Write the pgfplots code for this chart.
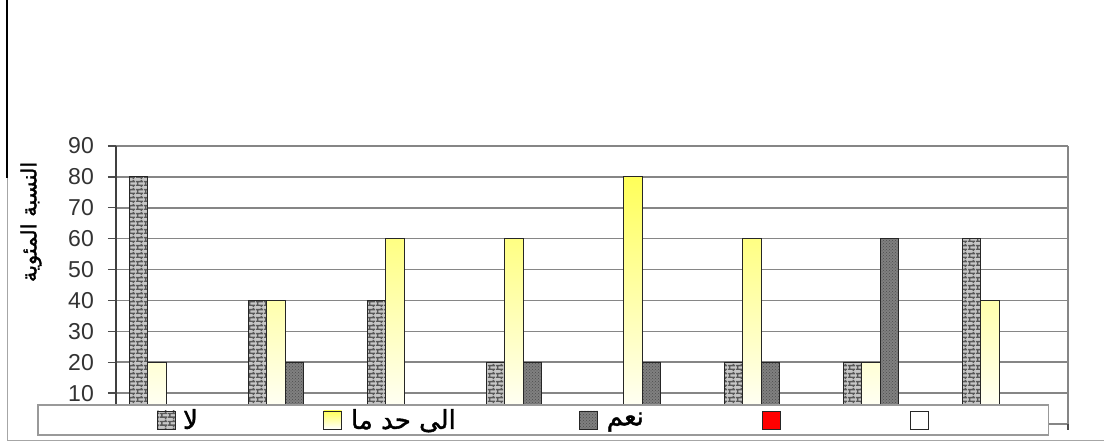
\documentclass[border=0pt]{standalone}
\usepackage{fontspec}
\setmainfont{Liberation Sans}
\newfontfamily\arabicfont[Script=Arabic, FakeBold=1.5]{DejaVu Sans}
\TeXXeTstate=1
\usepackage{pgfplots}
\pgfplotsset{compat=1.18}
\usetikzlibrary{patterns}

% brick pattern: light bricks, dark mortar
\pgfdeclarepatternformonly{mybricks}{\pgfpointorigin}{\pgfpoint{8pt}{8pt}}{\pgfpoint{8pt}{8pt}}{
  \pgfsetlinewidth{1.5pt}
  \pgfpathmoveto{\pgfpoint{0pt}{2pt}}\pgfpathlineto{\pgfpoint{8pt}{2pt}}
  \pgfpathmoveto{\pgfpoint{0pt}{6pt}}\pgfpathlineto{\pgfpoint{8pt}{6pt}}
  \pgfpathmoveto{\pgfpoint{2pt}{2pt}}\pgfpathlineto{\pgfpoint{2pt}{6pt}}
  \pgfpathmoveto{\pgfpoint{6pt}{6pt}}\pgfpathlineto{\pgfpoint{6pt}{8pt}}
  \pgfpathmoveto{\pgfpoint{6pt}{0pt}}\pgfpathlineto{\pgfpoint{6pt}{2pt}}
  \pgfusepath{stroke}
}

\pgfplotsset{
  sq legend/.style={legend image code/.code={\draw[##1] (0pt,-9pt) rectangle (18pt,9pt);}},
}

\begin{document}
\begin{tikzpicture}
\useasboundingbox (0,0) rectangle (1104pt,443pt);
\fill[white] (0,0) rectangle (1104pt,443pt);
\draw[black, line width=1.5pt] (7pt,443pt) -- (7pt,265pt);
\draw[gray!70, line width=1pt] (7pt,265pt) -- (7pt,2pt) -- (1104pt,2pt);
\begin{axis}[
  at={(116pt,19pt)}, anchor=south west, scale only axis,
  width=952pt, height=278pt,
  xmin=-0.5, xmax=7.5, ymin=0, ymax=90,
  ybar, bar width=18.4pt,
  axis x line*=bottom, axis y line*=left,
  x axis line style={gray!95, line width=1.5pt},
  y axis line style={black!75, line width=1.8pt},
  xtick=\empty,
  extra x ticks={7.5}, extra x tick labels={},
  extra x tick style={grid=major, major tick length=6pt},
  ytick={10,20,...,90},
  ymajorgrids, grid style={gray!95, line width=1.5pt},
  major tick length=8pt, tick align=outside,
  tick style={black!70, line width=1.3pt},
  /pgf/number format/assume math mode=true,
  yticklabel style={font=\fontsize{23}{26}\selectfont, text=black!80, inner sep=0pt, xshift=-14pt},
  legend columns=5,
  legend style={at={(0.449,0.0144)}, anchor=center, draw=gray!80, line width=1.5pt, fill=white,
    inner xsep=119pt, inner ysep=4pt, column sep=0pt,
    nodes={inner sep=0pt, text depth=0pt},
    font=\fontsize{26}{28}\selectfont},
]
\addplot[sq legend, draw=black!85, line width=0.9pt, fill=gray!45,
  postaction={pattern=mybricks, pattern color=black!65}, bar shift=-36.8pt]
  coordinates {(0,80) (1,40) (2,40) (3,20) (5,20) (6,20) (7,60)};
\addlegendentry{\makebox[147pt][l]{\hspace{7pt}\raisebox{2pt}{\arabicfont\beginR لا\endR}}}
\addplot[sq legend, draw=black!85, line width=0.9pt, top color=yellow!65, bottom color=white,
  bar shift=-18.4pt]
  coordinates {(0,20) (1,40) (2,60) (3,60) (4,80) (5,60) (6,20) (7,40)};
\addlegendentry{\makebox[237pt][l]{\hspace{9pt}\raisebox{2pt}{\arabicfont\beginR الى حد ما\endR}}}
\addplot[sq legend, draw=black!85, line width=0.9pt, fill=black!50,
  postaction={pattern=crosshatch dots, pattern color=black!70}, bar shift=0pt]
  coordinates {(1,20) (3,20) (4,20) (5,20) (6,60)};
\addlegendentry{\makebox[164pt][l]{\hspace{9pt}\raisebox{2pt}{\arabicfont\beginR نعم\endR}}}
\addlegendimage{sq legend, draw=black!85, line width=0.9pt, fill=red}
\addlegendentry{\makebox[129pt][l]{}}
\addlegendimage{sq legend, draw=black!85, line width=0.9pt, fill=white}
\addlegendentry{\makebox[0pt][l]{}}
\end{axis}
\node[rotate=90, font=\fontsize{21}{24}\selectfont] at (31pt,221pt) {\arabicfont\beginR النسبة المئوية\endR};
\end{tikzpicture}
\end{document}
